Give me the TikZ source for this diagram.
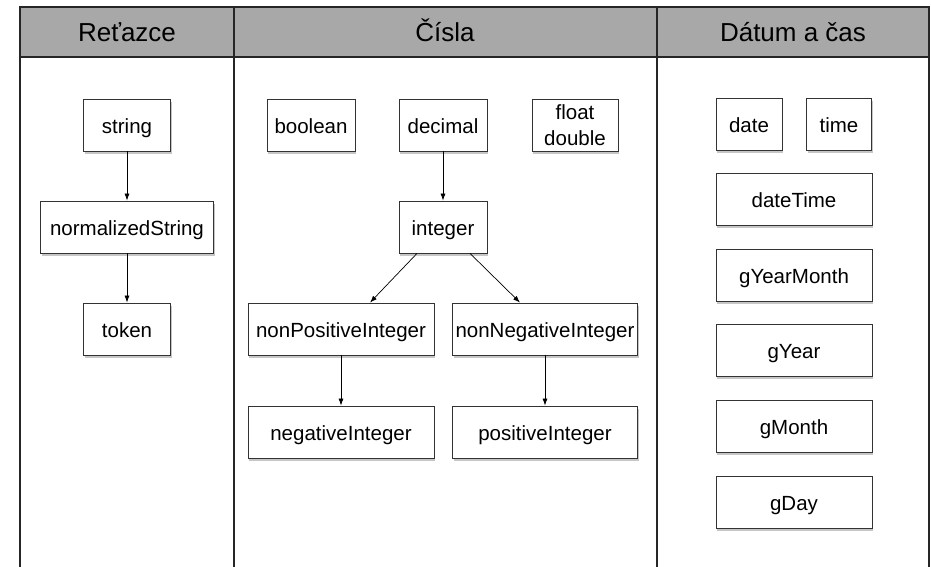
\documentclass[tikz,border=0pt]{standalone}
\usepackage{fontspec}
\setmainfont{Liberation Sans}
\usetikzlibrary{shadows,arrows.meta}
\definecolor{headgray}{RGB}{168,168,168}
\begin{document}
\begin{tikzpicture}[x=1pt,y=-1pt,
  typebox/.style={draw=black!80,fill=white,line width=0.8pt,minimum height=52pt,inner sep=2pt,
    font=\fontsize{20.5}{26}\selectfont,align=center,
    drop shadow={shadow xshift=1pt,shadow yshift=-3pt,opacity=0.45}},
  oneline/.style={typebox,text height=18pt,text depth=2pt},
  derive/.style={-{Latex[length=7pt,width=5pt]},line width=0.7pt},
  heading/.style={font=\fontsize{26}{28}\selectfont,anchor=base}]
\useasboundingbox (0,0) rectangle (931,567);
% Drawing columns
\filldraw[fill=headgray,draw=black!85,line width=1.5pt] (20,7) rectangle (929,57);
\foreach \colx in {20,234,657,929}
  \draw[black!85,line width=1.5pt] (\colx,7) -- (\colx,567);
\node[heading] (hstr) at (127,42) {Reťazce};
\node[heading] (hnum) at (445,42) {Čísla};
\node[heading] (hdat) at (793,42) {Dátum a čas};
% Done with columns; drawing boxes
% Column 1: strings
\node[oneline,minimum width=87pt] (string) at (127,125) {string};
\node[oneline,minimum width=173pt] (normstr) at (127,227) {normalizedString};
\node[oneline,minimum width=87pt] (token) at (127,329) {token};
% Column 2: numbers
\node[oneline,minimum width=88pt] (boolean) at (311,125) {boolean};
\node[oneline,minimum width=88pt] (decimal) at (443,125) {decimal};
\node[typebox,minimum width=86pt] (float) at (575,125) {float\\double};
\node[oneline,minimum width=88pt] (integer) at (443,227) {integer};
\node[oneline,minimum width=186pt] (nonpos) at (341,329) {nonPositiveInteger};
\node[oneline,minimum width=185pt] (nonneg) at (545,329) {nonNegativeInteger};
\node[oneline,minimum width=186pt] (neg) at (341,432) {negativeInteger};
\node[oneline,minimum width=185pt] (pos) at (545,432) {positiveInteger};
% Column 3: date and time
\node[oneline,minimum width=66pt] (date) at (749,124) {date};
\node[oneline,minimum width=65pt] (time) at (839,124) {time};
\node[oneline,minimum width=156pt] (datetime) at (794,199) {dateTime};
\node[oneline,minimum width=156pt] (gyearmonth) at (794,275) {gYearMonth};
\node[oneline,minimum width=156pt] (gyear) at (794,350) {gYear};
\node[oneline,minimum width=156pt] (gmonth) at (794,426) {gMonth};
\node[oneline,minimum width=156pt] (gday) at (794,502) {gDay};
% Done with boxes; drawing arrows
\draw[derive] (string) -- (normstr);
\draw[derive] (normstr) -- (token);
\draw[derive] (decimal) -- (integer);
\draw[derive] ([xshift=-26pt]integer.south) -- ([xshift=29pt]nonpos.north);
\draw[derive] ([xshift=27pt]integer.south) -- ([xshift=-25pt]nonneg.north);
\draw[derive] (nonpos) -- (neg);
\draw[derive] (nonneg) -- (pos);
% Done with arrows
\end{tikzpicture}
\end{document}
